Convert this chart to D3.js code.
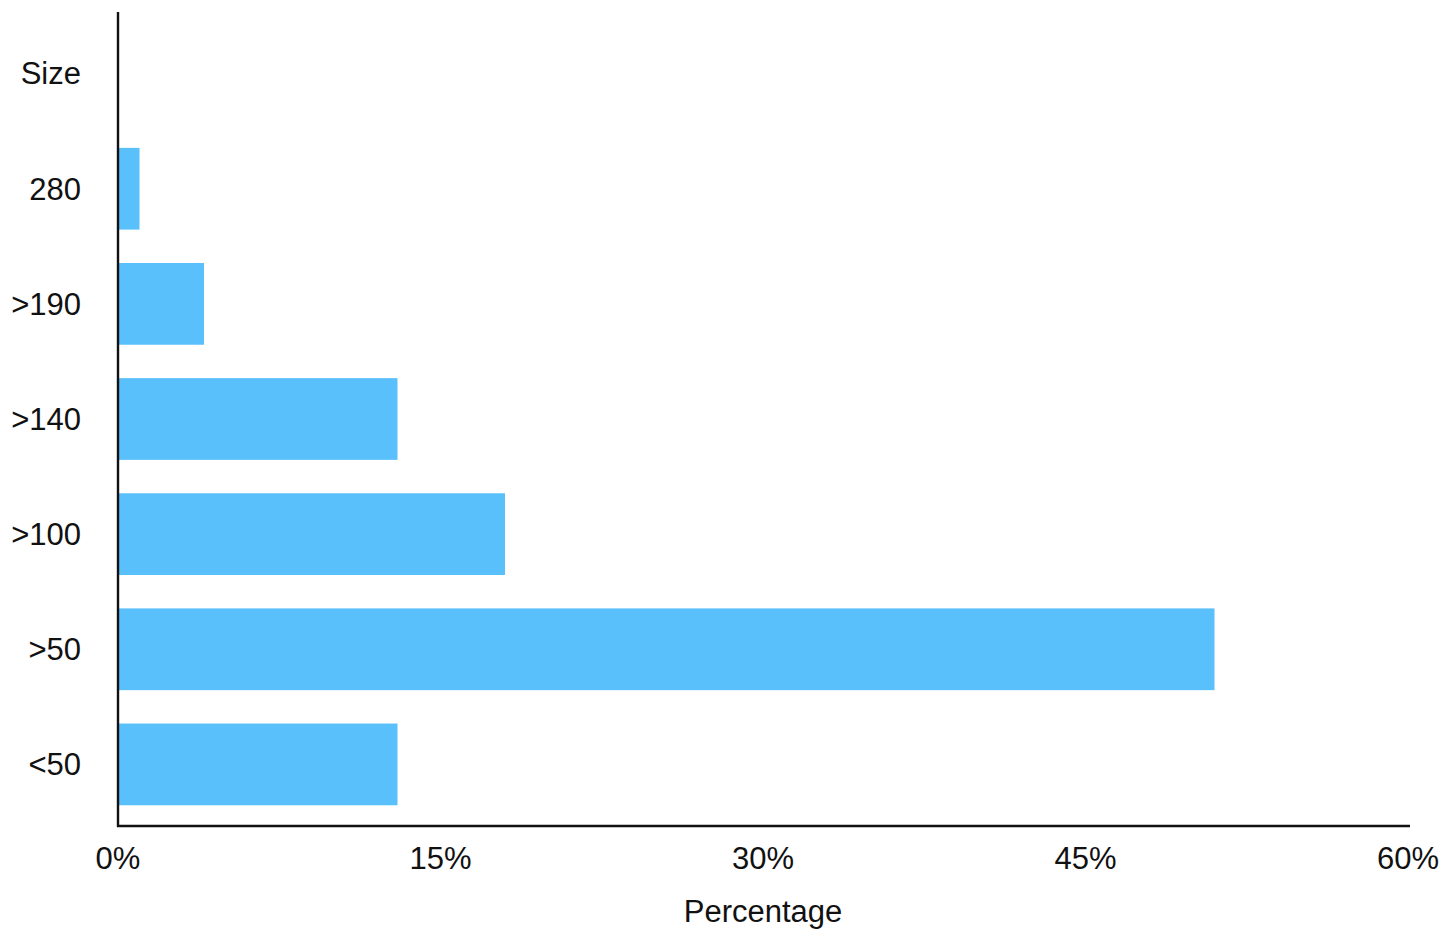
<!DOCTYPE html>
<html>
<head>
<meta charset="utf-8">
<script src="https://cdn.jsdelivr.net/npm/d3@7"></script>
<style>
  html, body { margin: 0; padding: 0; background: #fff; }
  svg { display: block; font-family: "Liberation Sans", Arial, Helvetica, sans-serif; }
</style>
</head>
<body>
<svg id="chart" width="1452" height="942"></svg>
<script>
const categories = ["Size", "280", ">190", ">140", ">100", ">50", "<50"];
const values = [null, 1, 4, 13, 18, 51, 13];
const xTicks = [0, 15, 30, 45, 60];
const xTitle = "Percentage";

const svg = d3.select("#chart");
const x0 = 118, x1 = 1408, yTop = 12, yBot = 826;
const fs = 31;

const x = d3.scaleLinear().domain([0, 60]).range([x0, x1]);
const y = d3.scaleBand().domain(categories).range([yTop, yBot])
  .paddingInner(0.29).paddingOuter(0.18);

const data = categories.map((c, i) => ({ c, v: values[i] })).filter(d => d.v != null);

svg.append("g").selectAll("rect").data(data).join("rect")
  .attr("x", x(0))
  .attr("y", d => y(d.c))
  .attr("width", d => x(d.v) - x(0))
  .attr("height", y.bandwidth())
  .attr("fill", "#5ac0fc");

// axes lines
svg.append("line").attr("x1", x0).attr("x2", x0).attr("y1", yTop).attr("y2", yBot + 1)
  .attr("stroke", "#111").attr("stroke-width", 2.4);
svg.append("line").attr("x1", x0 - 1).attr("x2", 1410).attr("y1", yBot).attr("y2", yBot)
  .attr("stroke", "#111").attr("stroke-width", 2.4);

// x tick labels
svg.append("g").selectAll("text").data(xTicks).join("text")
  .attr("x", d => x(d))
  .attr("y", 869)
  .attr("text-anchor", "middle")
  .attr("font-size", fs)
  .attr("fill", "#111")
  .text(d => d + "%");

// y labels
svg.append("g").selectAll("text").data(categories).join("text")
  .attr("x", 81)
  .attr("y", d => y(d) + y.bandwidth() / 2)
  .attr("dy", "0.35em")
  .attr("text-anchor", "end")
  .attr("font-size", fs)
  .attr("fill", "#111")
  .text(d => d);

svg.append("text")
  .attr("x", (x0 + x1) / 2)
  .attr("y", 922)
  .attr("text-anchor", "middle")
  .attr("font-size", fs)
  .attr("fill", "#111")
  .text(xTitle);
</script>
</body>
</html>
